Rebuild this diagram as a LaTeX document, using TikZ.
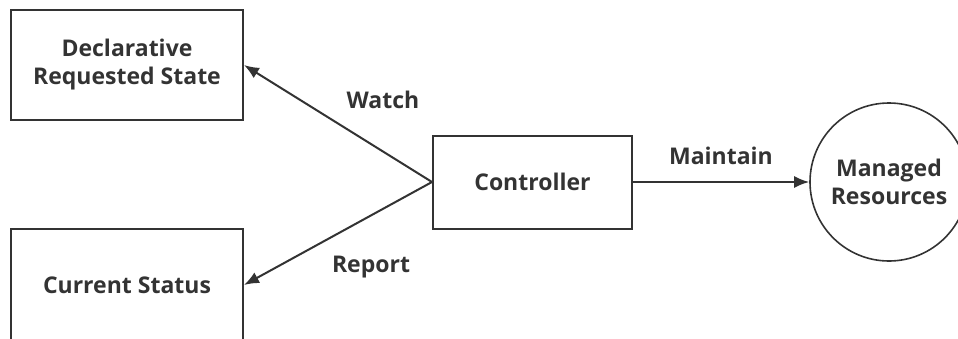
\documentclass[tikz,border=0pt]{standalone}
\usepackage{fontspec}
\setmainfont{Open Sans}
\usetikzlibrary{arrows.meta}
\definecolor{ink}{HTML}{333333}
\tikzset{
  box/.style={draw=ink, line width=2pt, rectangle, text=ink, font=\bfseries\fontsize{23}{28}\selectfont, align=center, inner sep=0pt},
  circ/.style={draw=ink, line width=1.6pt, circle, text=ink, font=\bfseries\fontsize{23}{28}\selectfont, align=center, inner sep=0pt},
  conn/.style={draw=ink, line width=2pt, -{Latex[length=15pt,width=12pt]}},
  lbl/.style={text=ink, font=\bfseries\fontsize{23}{28}\selectfont, inner sep=0pt}
}
\begin{document}
\begin{tikzpicture}[x=1pt,y=-1pt]
\useasboundingbox (0,0) rectangle (958,338);
\clip (0,0) rectangle (958,338);
\node[box, minimum width=232pt, minimum height=110pt] (decl) at (127,65) {Declarative\\Requested State};
\node[box, minimum width=232pt, minimum height=112pt] (cur) at (127,285) {Current Status};
\node[box, minimum width=199pt, minimum height=93pt] (ctrl) at (532.5,182) {Controller};
\node[circ, minimum size=158pt] (res) at (889,182) {Managed\\Resources};
\draw[conn] (ctrl.west) -- (decl.east);
\draw[conn] (ctrl.west) -- (cur.east);
\draw[conn] (ctrl.east) -- (res.west);
\node[lbl] (lw) at (383,100) {Watch};
\node[lbl] (lr) at (371,267) {Report};
\node[lbl] (lm) at (721,156) {Maintain};
\end{tikzpicture}
\end{document}
